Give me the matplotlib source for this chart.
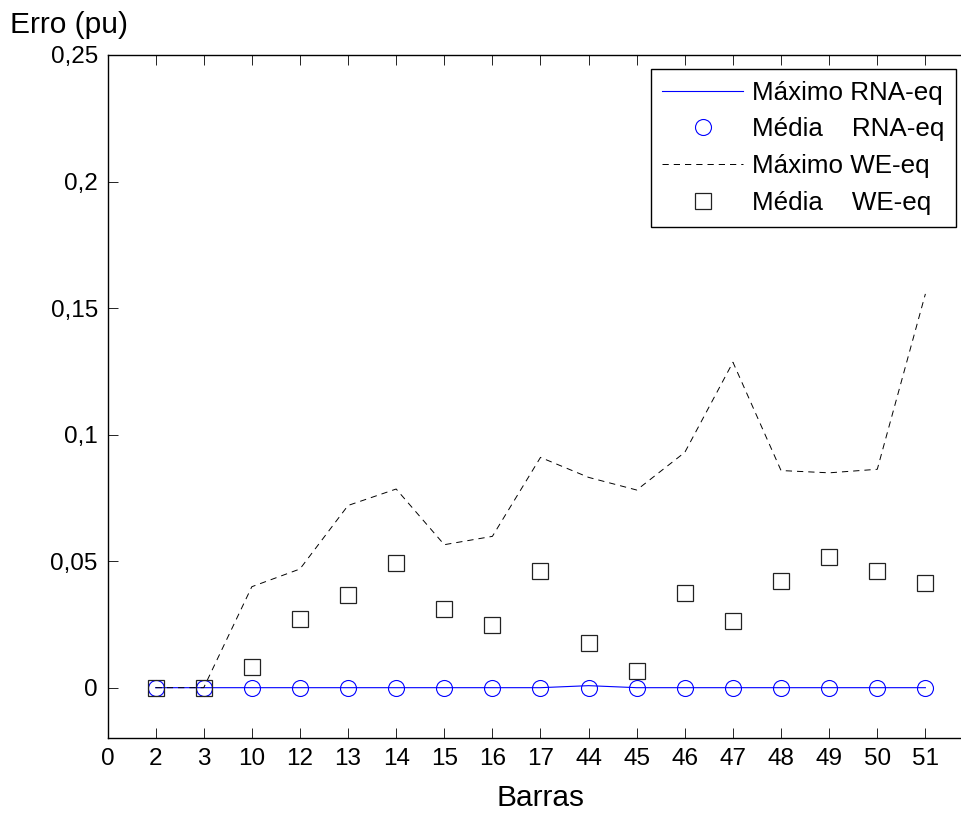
import matplotlib
matplotlib.use("Agg")
import matplotlib.pyplot as plt
import numpy as np

plt.rcParams['font.family'] = ['Liberation Sans', 'DejaVu Sans']
plt.rcParams['lines.scale_dashes'] = False

# Bus numbers (x categories)
barras = ['2', '3', '10', '12', '13', '14', '15', '16', '17',
          '44', '45', '46', '47', '48', '49', '50', '51']

# Error values (pu)
max_rna = [0, 0, 0, 0, 0, 0, 0, 0, 0, 0.0008, 0, 0, 0, 0, 0, 0, 0]
media_rna = [0, 0, 0, 0, 0, 0, 0, 0, 0, 0, 0, 0, 0, 0, 0, 0, 0]
max_we = [0, 0, 0.0399, 0.0469, 0.0720, 0.0785, 0.0565, 0.0598, 0.0910,
          0.0831, 0.0781, 0.0930, 0.1286, 0.0858, 0.0849, 0.0863, 0.1556]
media_we = [0, 0, 0.0083, 0.0271, 0.0366, 0.0493, 0.0310, 0.0246, 0.0461,
            0.0177, 0.0066, 0.0374, 0.0262, 0.0420, 0.0515, 0.0461, 0.0414]

yticks = [0, 0.05, 0.10, 0.15, 0.20, 0.25]
ytick_labels = ['0', '0,05', '0,1', '0,15', '0,2', '0,25']

W, H = 962, 816
fig = plt.figure(figsize=(W / 100, H / 100), dpi=100)
left, right, top, bottom = 107.5, 973.5, 55.0, 738.3
ax = fig.add_axes([left / W, 1 - bottom / H, (right - left) / W, (bottom - top) / H])

x = np.arange(1, len(barras) + 1)

ax.plot(x, max_rna, color=(0, 0, 1), lw=0.8, label='Máximo RNA-eq')
ax.plot(x, media_rna, ls='none', marker='o', ms=11.5, mfc='none',
        mec=(0, 0, 1), mew=0.8, label='Média    RNA-eq')
ax.plot(x, max_we, color='black', lw=0.7, ls=(0, (4.5, 3.6)),
        label='Máximo WE-eq')
ax.plot(x, media_we, ls='none', marker='s', ms=11, mfc='none',
        mec='#222222', mew=0.9, label='Média    WE-eq')

ax.set_xlim(0, 18)
ax.set_ylim(-0.02, 0.25)
ax.set_xticks(np.arange(0, len(barras) + 1))
ax.set_xticklabels(['0'] + barras)
ax.set_yticks(yticks)
ax.set_yticklabels(ytick_labels)

ax.tick_params(direction='in', length=7, width=0.6, labelsize=17.5,
               top=True, right=False, pad=7, colors='black')
for s in ax.spines.values():
    s.set_linewidth(1.0)
    s.set_color('black')
ax.spines['right'].set_visible(False)

ax.set_xlabel('Barras', fontsize=21.5)
ax.xaxis.set_label_coords(0.5, -0.087)
ax.xaxis.label.set_va('center')

fig.text(10 / W, 1 - 25 / H, 'Erro (pu)', fontsize=21.5, ha='left', va='center')

leg = ax.legend(loc='upper right', bbox_to_anchor=(956 / W, 1 - 69 / H),
                bbox_transform=fig.transFigure, fontsize=18.7, frameon=True,
                fancybox=False, shadow=False, handlelength=3.1,
                handletextpad=0.35, borderpad=0.45, labelspacing=0.49,
                borderaxespad=0)
leg.get_frame().set_edgecolor('black')
leg.get_frame().set_linewidth(1.0)
leg.get_frame().set_alpha(1)

fig.savefig('out.png', dpi=100)
